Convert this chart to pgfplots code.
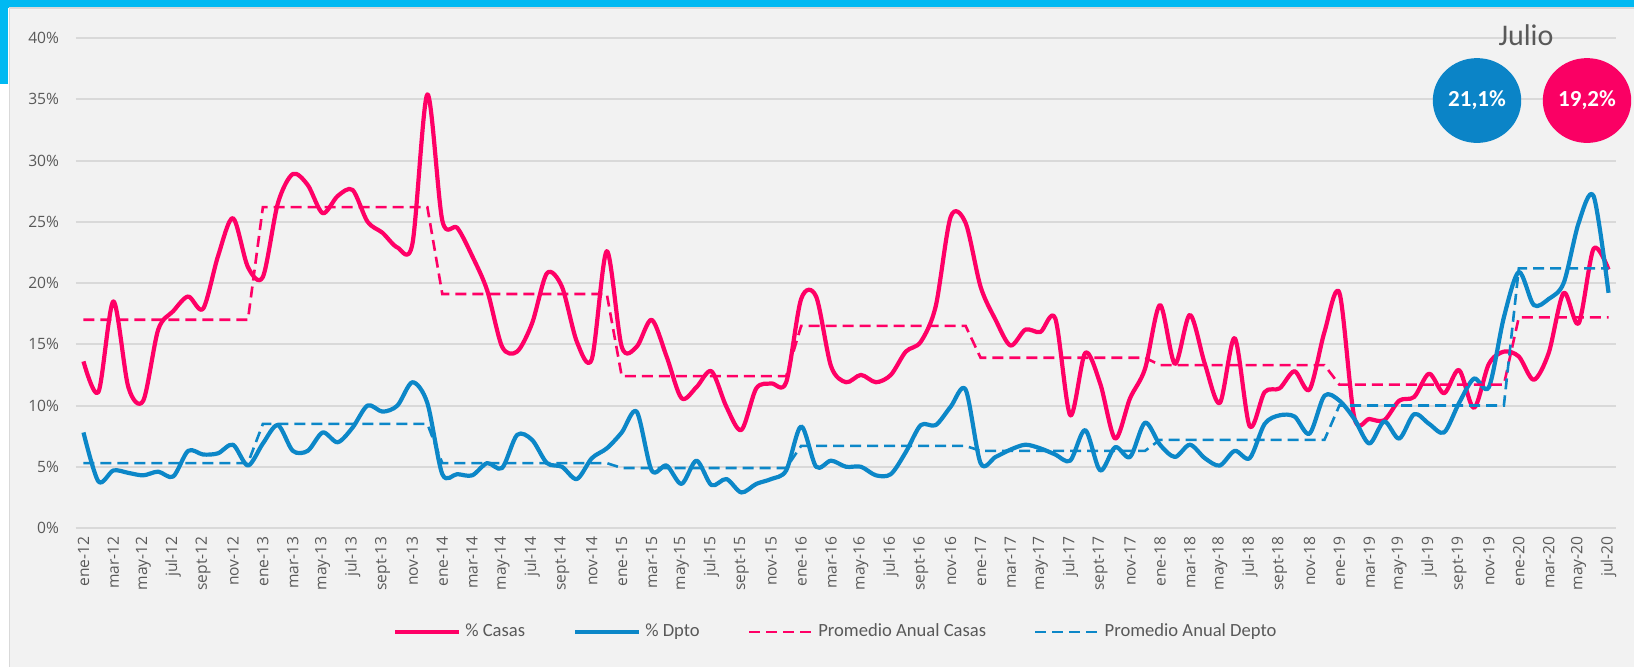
\documentclass[border=0pt]{standalone}
\usepackage{fontspec}
\setmainfont{Carlito}
\newfontfamily\tickfont{Open Sans}
\usepackage{pgfplots}
\usepackage{pgfplotstable}
\pgfplotsset{compat=1.18}
\definecolor{casas}{RGB}{255,0,102}
\definecolor{dpto}{RGB}{12,135,200}
\definecolor{gridgray}{RGB}{217,217,217}
\definecolor{bggray}{RGB}{242,242,242}
\definecolor{txtgray}{RGB}{89,89,89}
\definecolor{topcyan}{RGB}{0,185,242}
\definecolor{circblue}{RGB}{11,132,199}
\definecolor{circpink}{RGB}{250,0,100}

\pgfplotstableread{
x y
0 13.6
1 11.1
2 18.5
3 11.5
4 10.4
5 16.2
6 17.7
7 18.9
8 17.9
9 22.2
10 25.3
11 21.3
12 20.5
13 26.5
14 28.9
15 28.0
16 25.7
17 27.1
18 27.6
19 25.0
20 24.1
21 22.9
22 23.2
23 35.4
24 25.1
25 24.5
26 22.2
27 19.4
28 14.8
29 14.4
30 16.7
31 20.8
32 19.7
33 15.2
34 13.8
35 22.6
36 14.8
37 14.8
38 17.0
39 14.0
40 10.6
41 11.5
42 12.8
43 9.9
44 8.0
45 11.4
46 11.8
47 11.9
48 18.7
49 18.9
50 13.2
51 11.9
52 12.5
53 11.9
54 12.5
55 14.4
56 15.2
57 18.1
58 25.4
59 24.9
60 19.7
61 17.0
62 14.9
63 16.2
64 16.0
65 17.1
66 9.2
67 14.3
68 11.8
69 7.3
70 10.6
71 13.0
72 18.2
73 13.4
74 17.4
75 13.4
76 10.2
77 15.5
78 8.3
79 11.1
80 11.4
81 12.8
82 11.3
83 16.0
84 19.2
85 9.0
86 8.9
87 8.8
88 10.4
89 10.7
90 12.6
91 11.0
92 12.9
93 9.8
94 13.4
95 14.4
96 14.0
97 12.1
98 14.3
99 19.2
100 16.7
101 22.8
102 21.1
}\casastab

\pgfplotstableread{
x y
0 7.8
1 3.8
2 4.7
3 4.5
4 4.3
5 4.6
6 4.2
7 6.3
8 6.0
9 6.1
10 6.8
11 5.1
12 6.9
13 8.4
14 6.3
15 6.3
16 7.8
17 7.0
18 8.2
19 10.0
20 9.5
21 10.0
22 11.9
23 10.2
24 4.4
25 4.4
26 4.3
27 5.3
28 4.9
29 7.6
30 7.2
31 5.3
32 5.0
33 4.0
34 5.7
35 6.5
36 7.8
37 9.5
38 4.7
39 5.1
40 3.6
41 5.5
42 3.5
43 4.0
44 2.9
45 3.6
46 4.0
47 4.7
48 8.3
49 5.0
50 5.5
51 5.0
52 5.0
53 4.3
54 4.4
55 6.2
56 8.4
57 8.4
58 9.9
59 11.3
60 5.3
61 5.8
62 6.4
63 6.8
64 6.5
65 6.0
66 5.5
67 8.0
68 4.7
69 6.6
70 5.8
71 8.6
72 6.8
73 5.8
74 6.8
75 5.7
76 5.1
77 6.3
78 5.7
79 8.5
80 9.2
81 9.1
82 7.7
83 10.8
84 10.4
85 8.9
86 6.9
87 8.7
88 7.3
89 9.3
90 8.5
91 7.8
92 10.2
93 12.2
94 11.5
95 17.2
96 20.9
97 18.2
98 18.7
99 20.0
100 24.9
101 27.1
102 19.2
}\dptotab

\pgfplotstableread{
x y
0 17.0
11 17.0
12 26.2
23 26.2
24 19.1
35 19.1
36 12.4
47 12.4
48 16.5
59 16.5
60 13.9
71 13.9
72 13.3
83 13.3
84 11.7
95 11.7
96 17.2
102 17.2
}\avgcasas

\pgfplotstableread{
x y
0 5.3
11 5.3
12 8.5
23 8.5
24 5.3
35 5.3
36 4.9
47 4.9
48 6.7
59 6.7
60 6.3
71 6.3
72 7.2
83 7.2
84 10.0
95 10.0
96 21.2
102 21.2
}\avgdpto

\begin{document}
\begin{tikzpicture}
\clip (0pt,0pt) rectangle (817pt,-333pt);
\fill[white] (0pt,0pt) rectangle (817pt,-333pt);
\fill[topcyan] (0pt,0pt) rectangle (817pt,-4pt);
\fill[topcyan] (0pt,0pt) rectangle (4pt,-42pt);
\filldraw[fill=bggray, draw=gridgray, line width=0.6pt] (4.6pt,-4pt) rectangle (820pt,-340pt);

\begin{axis}[
  at={(38pt,-264pt)}, anchor=south west,
  scale only axis, width=770pt, height=245pt,
  xmin=-0.5, xmax=102.5, ymin=0, ymax=40,
  axis x line*=bottom, axis y line*=left,
  x axis line style={draw=gridgray, line width=1pt, -},
  y axis line style={draw=none},
  ytick={0,5,...,40},
  yticklabel={\pgfmathprintnumber{\tick}\%},
  ytick style={draw=none},
  ymajorgrids, grid style={draw=gridgray, line width=1pt},
  xtick={0,2,...,102},
  xticklabels={ene-12,mar-12,may-12,jul-12,sept-12,nov-12,
    ene-13,mar-13,may-13,jul-13,sept-13,nov-13,
    ene-14,mar-14,may-14,jul-14,sept-14,nov-14,
    ene-15,mar-15,may-15,jul-15,sept-15,nov-15,
    ene-16,mar-16,may-16,jul-16,sept-16,nov-16,
    ene-17,mar-17,may-17,jul-17,sept-17,nov-17,
    ene-18,mar-18,may-18,jul-18,sept-18,nov-18,
    ene-19,mar-19,may-19,jul-19,sept-19,nov-19,
    ene-20,mar-20,may-20,jul-20},
  xtick style={draw=none},
  extra x ticks={-0.5,1.5,...,101.5,102.5},
  extra x tick labels={},
  extra x tick style={grid=none, tick align=outside, major tick length=2.6pt,
    tick style={draw=gridgray, line width=1pt}},
  tick label style={font=\tickfont\fontsize{7.8}{9}\selectfont, text=txtgray},
  /pgf/number format/assume math mode=true,
  xticklabel style={rotate=90, anchor=east, inner sep=1pt, xshift=-3pt},
  yticklabel style={anchor=east, xshift=-5pt},
  legend columns=4,
  legend cell align=left,
  legend style={at={(0.494,-0.212)}, anchor=center, draw=none, fill=none,
    font=\fontsize{9.3}{11}\selectfont, text=txtgray,
    /tikz/every even column/.append style={column sep=22pt}},
  legend image code/.code={\draw[#1] (0pt,0pt) -- (32pt,0pt);},
]
\addplot[casas, line width=2.1pt, smooth, line join=round] table[x=x,y=y]{\casastab};
\addlegendentry{\% Casas}
\addplot[dpto, line width=2.1pt, smooth, line join=round] table[x=x,y=y]{\dptotab};
\addlegendentry{\% Dpto}
\addplot[casas, line width=1.3pt, dash pattern=on 5.5pt off 3pt] table[x=x,y=y]{\avgcasas};
\addlegendentry{Promedio Anual Casas}
\addplot[dpto, line width=1.3pt, dash pattern=on 5.5pt off 3pt] table[x=x,y=y]{\avgdpto};
\addlegendentry{Promedio Anual Depto}
\end{axis}

\node[text=txtgray, font=\fontsize{15}{18}\selectfont] at (763pt,-17.5pt) {Julio};
\fill[circblue] (738.5pt,-50.25pt) ellipse [x radius=22.1pt, y radius=21.2pt];
\fill[circpink] (793.5pt,-50.25pt) ellipse [x radius=22.1pt, y radius=21.2pt];
\node[text=white, font=\fontsize{11.5}{13}\selectfont\bfseries] at (738.5pt,-50.25pt) {21,1\%};
\node[text=white, font=\fontsize{11.5}{13}\selectfont\bfseries] at (793.5pt,-50.25pt) {19,2\%};
\end{tikzpicture}
\end{document}
